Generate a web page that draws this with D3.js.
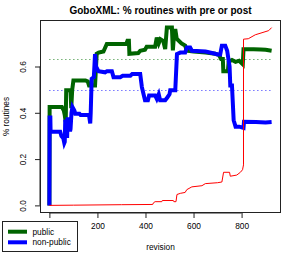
<!DOCTYPE html>
<html>
<head>
<meta charset="utf-8">
<script src="https://cdn.jsdelivr.net/npm/d3@7"></script>
<style>
  body { margin: 0; background: #fff; }
  svg { display: block; font-family: "Liberation Sans", Arial, sans-serif; }
</style>
</head>
<body>
<div class="chart"></div>
<script>
// values: [revision, fraction]
var publicSeries = [[0,0],[1,0.425],[52,0.425],[60,0.41],[64,0.39],[68,0.36],[70,0.497],[88,0.497],[91,0.42],[95,0.50],[100,0.54],
  [150,0.54],[160,0.535],[165,0.518],[190,0.518],[197,0.655],[205,0.66],[225,0.665],[239,0.697],[320,0.697],[325,0.711],[331,0.711],
  [333,0.655],[370,0.658],[378,0.668],[398,0.672],[405,0.685],[440,0.685],[447,0.725],[455,0.70],[462,0.718],[474,0.71],[482,0.675],
  [489,0.768],[510,0.768],[514,0.67],[520,0.754],[525,0.754],[530,0.72],[550,0.70],[565,0.69],[572,0.668],[600,0.665],[650,0.66],
  [690,0.655],[705,0.65],[711,0.64],[715,0.632],[722,0.632],[724,0.58],[743,0.58],[746,0.62],[760,0.628],[775,0.62],[790,0.625],
  [805,0.61],[808,0.675],[850,0.675],[880,0.673],[900,0.672],[925,0.668]];

var nonPublicSeries = [[0,0],[1,0.38],[4,0.38],[5,0.318],[45,0.318],[50,0.30],[58,0.29],[62,0.27],[64,0.275],[66,0.37],[70,0.36],
  [72,0.30],[74,0.30],[76,0.38],[80,0.36],[86,0.32],[88,0.33],[92,0.40],[96,0.425],[104,0.41],[108,0.396],[125,0.396],[130,0.39],
  [165,0.39],[170,0.354],[172,0.40],[176,0.547],[185,0.554],[190,0.654],[194,0.60],[204,0.58],[232,0.575],[240,0.58],[260,0.58],
  [267,0.554],[295,0.554],[305,0.56],[337,0.56],[345,0.568],[378,0.568],[385,0.511],[392,0.48],[398,0.454],[410,0.454],[415,0.475],
  [440,0.475],[447,0.46],[455,0.48],[461,0.454],[482,0.454],[490,0.465],[500,0.48],[503,0.497],[524,0.497],[531,0.654],[545,0.66],
  [565,0.66],[572,0.682],[586,0.682],[593,0.668],[650,0.665],[690,0.655],[700,0.652],[711,0.652],[718,0.69],[732,0.69],[740,0.668],
  [750,0.6],[753,0.518],[760,0.518],[767,0.368],[775,0.34],[790,0.34],[808,0.335],[810,0.361],[860,0.36],[900,0.358],[925,0.36]];

var redSeries = [[0,0],[100,0.001],[300,0.003],[430,0.004],[433,0.011],[440,0.016],[468,0.016],[470,0.021],[516,0.021],[518,0.016],
  [527,0.016],[531,0.047],[545,0.052],[565,0.056],[572,0.068],[593,0.08],[635,0.085],[649,0.094],[700,0.098],[718,0.101],[725,0.143],
  [750,0.143],[753,0.126],[780,0.131],[795,0.143],[804,0.154],[808,0.175],[808,0.718],[828,0.72],[857,0.737],[885,0.746],[913,0.755],[925,0.768]];

var publicMean = 0.631;
var nonPublicMean = 0.498;

var xTicks = [0, 200, 400, 600, 800];
var yTicks = [0, 0.2, 0.4, 0.6];
var legendLabels = ["public", "non-public"];
var legendColors = ["darkgreen", "blue"];

var svgWidth = 294, svgHeight = 254;
var plot = {left: 40.5, right: 280.5, top: 20.5, bottom: 212.5};

var svg = d3.select(".chart").append("svg")
  .attr("width", svgWidth)
  .attr("height", svgHeight);

// R style 4% padding
var allPts = publicSeries.concat(nonPublicSeries, redSeries);
var xExt = d3.extent(allPts, d => d[0]);
var yExt = d3.extent(allPts, d => d[1]);
var xPad = (xExt[1] - xExt[0]) * 0.04, yPad = (yExt[1] - yExt[0]) * 0.04;

var x = d3.scaleLinear().domain([xExt[0] - xPad, xExt[1] + xPad]).range([plot.left, plot.right]);
var y = d3.scaleLinear().domain([yExt[0] - yPad, yExt[1] + yPad]).range([plot.bottom, plot.top]);

var line = d3.line().x(d => x(d[0])).y(d => y(d[1]));

// mean lines (snapped to the pixel grid so the dots stay crisp)
[[publicMean, "#2e8b2e"], [nonPublicMean, "#3333ff"]].forEach(function(m) {
  var yy = Math.round(y(m[0])) + 0.5;
  svg.append("line")
    .attr("x1", x(0)).attr("x2", x(925))
    .attr("y1", yy).attr("y2", yy)
    .attr("stroke", m[1])
    .attr("stroke-width", 1)
    .attr("stroke-dasharray", "1,3");
});

svg.append("path").datum(publicSeries)
  .attr("d", line).attr("fill", "none")
  .attr("stroke", "darkgreen").attr("stroke-width", 4);

svg.append("path").datum(nonPublicSeries)
  .attr("d", line).attr("fill", "none")
  .attr("stroke", "blue").attr("stroke-width", 4);

svg.append("path").datum(redSeries)
  .attr("d", line).attr("fill", "none")
  .attr("stroke", "red").attr("stroke-width", 1);

// box
svg.append("rect")
  .attr("x", plot.left).attr("y", plot.top)
  .attr("width", plot.right - plot.left).attr("height", plot.bottom - plot.top)
  .attr("fill", "none").attr("stroke", "#222");

// axes ("0" label sits under the legend box in the original, so leave it blank)
var bottomAxis = d3.axisBottom(x).tickValues(xTicks).tickSize(5).tickFormat(d => d === 0 ? "" : d3.format("d")(d));
var gx = svg.append("g")
  .attr("transform", `translate(0, ${plot.bottom + 0.5})`)
  .call(bottomAxis);
gx.select(".domain").attr("d", `M${x(0)},0H${x(800)}`).attr("stroke", "#222");
gx.selectAll(".tick line").attr("stroke", "#222");
gx.selectAll("text").attr("font-size", "8.3px").attr("font-family", "Liberation Sans, Arial").attr("fill", "#000").attr("dy", "0.95em");

var leftAxis = d3.axisLeft(y).tickValues(yTicks).tickSize(5).tickFormat(d3.format(".1f"));
var gy = svg.append("g")
  .attr("transform", `translate(${plot.left - 0.5}, 0)`)
  .call(leftAxis);
gy.select(".domain").attr("d", `M0,${y(0)}V${y(0.6)}`).attr("stroke", "#222");
gy.selectAll(".tick line").attr("stroke", "#222");
gy.selectAll("text")
  .attr("font-size", "8.3px").attr("font-family", "Liberation Sans, Arial").attr("fill", "#000")
  .attr("x", null).attr("dy", null)
  .attr("text-anchor", "middle")
  .attr("transform", "translate(-14,0) rotate(-90)");

// titles
svg.append("text")
  .attr("x", (plot.left + plot.right) / 2).attr("y", 13.5)
  .attr("text-anchor", "middle")
  .attr("font-size", "10px").attr("font-weight", "bold")
  .text("GoboXML: % routines with pre or post");

svg.append("text")
  .attr("x", (plot.left + plot.right) / 2).attr("y", 250)
  .attr("text-anchor", "middle")
  .attr("font-size", "8.3px")
  .text("revision");

svg.append("text")
  .attr("transform", `translate(8.5, ${(plot.top + plot.bottom) / 2}) rotate(-90)`)
  .attr("text-anchor", "middle")
  .attr("font-size", "8.3px")
  .text("% routines");

// legend
var legend = svg.append("g");
legend.append("rect")
  .attr("x", 2.5).attr("y", 221.5).attr("width", 75).attr("height", 30)
  .attr("fill", "#fff").attr("stroke", "#222");
legendLabels.forEach(function(lab, i) {
  var ly = 231.7 + i * 10.6;
  legend.append("line")
    .attr("x1", 8).attr("x2", 27).attr("y1", ly).attr("y2", ly)
    .attr("stroke", legendColors[i]).attr("stroke-width", 4);
  legend.append("text")
    .attr("x", 32.5).attr("y", ly).attr("dy", "0.35em")
    .attr("font-size", "8.3px")
    .text(lab);
});
</script>
</body>
</html>
